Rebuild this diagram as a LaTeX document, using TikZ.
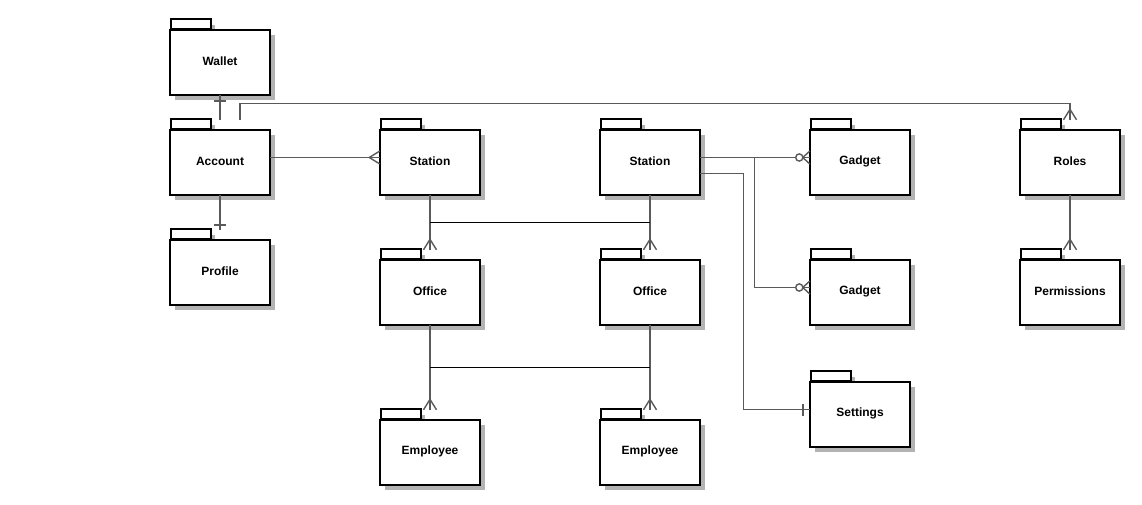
\documentclass[tikz,border=0pt]{standalone}
\usepackage{fontspec}
\setmainfont{Liberation Sans}
\usetikzlibrary{calc}
\definecolor{shadowc}{RGB}{179,179,179}
\definecolor{connc}{RGB}{90,90,90}
\tikzset{
  bodybox/.style={draw=black, line width=1.6pt, fill=white, minimum width=100pt, minimum height=65pt, inner sep=0pt},
  tabbox/.style={draw=black, line width=1.6pt, fill=white, minimum width=40pt, minimum height=10pt, inner sep=0pt},
  bbox/.style={draw=none, minimum width=100pt, minimum height=75pt, inner sep=0pt},
  pkglabel/.style={inner sep=0pt, font=\fontsize{12}{14}\selectfont\bfseries, text=black},
  conn/.style={draw=connc, line width=1.4pt},
  crow/.style={draw=connc, line width=1.4pt},
  link/.style={draw=black, line width=0.9pt},
}
% #1 name, #2 cx, #3 cy (body centre), #4 text
\newcommand\pkgnode[4]{%
  \fill[shadowc] (#2-45,#3-37.5) rectangle (#2-5,#3-27.5);
  \fill[shadowc] (#2-45,#3-27.5) rectangle (#2+55,#3+37.5);
  \node[tabbox, anchor=south west] (#1-tab) at (#2-50,#3-32.5) {};
  \node[bodybox] (#1-body) at (#2,#3) {};
  \node[pkglabel] (#1-label) at (#2,#3-1.5) {#4};
  \node[bbox] (#1) at (#2,#3-5) {};
}
\newcommand\crowdown[1]{\draw[crow] ($(#1)+(-6.5,0)$) -- ($(#1)+(0,-10.5)$) -- ($(#1)+(6.5,0)$);}
\newcommand\crowright[1]{\draw[crow] ($(#1)+(0,-6.5)$) -- ($(#1)+(-10.5,0)$) -- ($(#1)+(0,6.5)$);}
\newcommand\zerocrow[1]{%
  \draw[crow] ($(#1)+(0,-6.5)$) -- ($(#1)+(-7,0)$) -- ($(#1)+(0,6.5)$);
  \draw[crow, fill=white] ($(#1)+(-10.5,0)$) circle (3.6);}
\begin{document}
\begin{tikzpicture}[x=1pt, y=-1pt]
\useasboundingbox[fill=white] (0,0) rectangle (1142,505);

\pkgnode{wallet}{220}{62.5}{Wallet}
\pkgnode{account}{220}{162.5}{Account}
\pkgnode{profile}{220}{272.5}{Profile}
\pkgnode{station1}{430}{162.5}{Station}
\pkgnode{station2}{650}{162.5}{Station}
\pkgnode{office1}{430}{292.5}{Office}
\pkgnode{office2}{650}{292.5}{Office}
\pkgnode{employee1}{430}{452.5}{Employee}
\pkgnode{employee2}{650}{452.5}{Employee}
\pkgnode{gadget1}{860}{162.5}{Gadget}
\pkgnode{gadget2}{860}{292.5}{Gadget}
\pkgnode{settings}{860}{414.5}{Settings}
\pkgnode{roles}{1070}{162.5}{Roles}
\pkgnode{permissions}{1070}{292.5}{Permissions}

% Wallet - Account
\draw[conn] (wallet.south) -- (account.north);
\draw[conn] ($(wallet.south)+(-6,6)$) -- ++(12,0);
% Account - Profile
\draw[conn] (account.south) -- (profile.north);
\draw[conn] ($(profile.north)+(-6,-5)$) -- ++(12,0);
% Account - Roles
\draw[conn] ($(account.north)+(20,0)$) -- ++(0,-16) -| (roles.north);
\crowdown{roles.north}
% Account - Station
\draw[conn] (account.east) -- (station1.west);
\crowright{station1.west}
% Station - Office
\draw[conn] (station1.south) -- (office1.north);
\crowdown{office1.north}
\draw[conn] (station2.south) -- (office2.north);
\crowdown{office2.north}
\draw[link] ($(station1.south)+(0,27)$) -- ($(station2.south)+(0,27)$);
% Office - Employee
\draw[conn] (office1.south) -- (employee1.north);
\crowdown{employee1.north}
\draw[conn] (office2.south) -- (employee2.north);
\crowdown{employee2.north}
\draw[link] ($(office1.south)+(0,42)$) -- ($(office2.south)+(0,42)$);
% Station - Gadgets, Settings
\draw[conn] (station2.east) -- (gadget1.west);
\zerocrow{gadget1.west}
\draw[conn] (station2.east) -- ++(54,0) |- (gadget2.west);
\zerocrow{gadget2.west}
\draw[conn] ($(station2.east)+(0,16)$) -- ++(43,0) |- (settings.west);
\draw[conn] ($(settings.west)+(-7,-6)$) -- ++(0,12);
% Roles - Permissions
\draw[conn] (roles.south) -- (permissions.north);
\crowdown{permissions.north}
\end{tikzpicture}
\end{document}
